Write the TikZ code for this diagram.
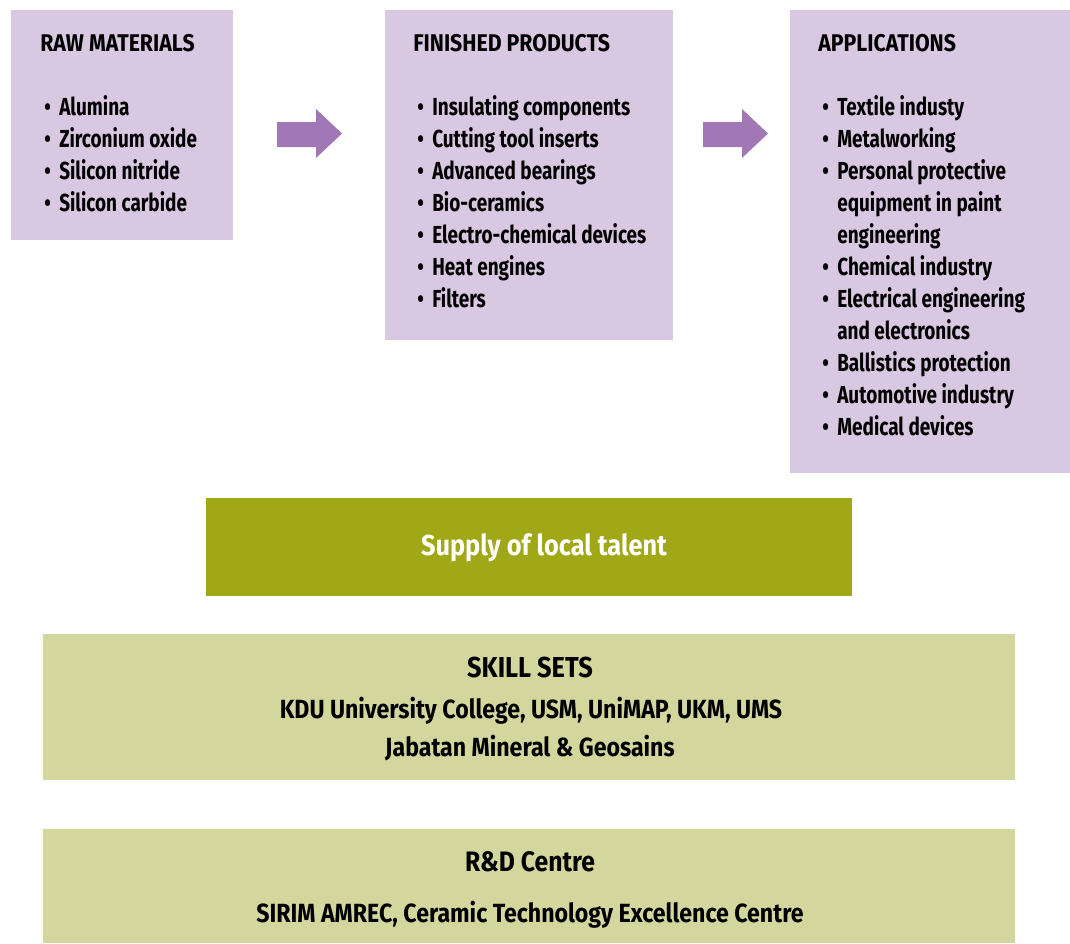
\documentclass[tikz,border=0pt]{standalone}
\usepackage{fontspec}
\setmainfont{Fira Sans}[FakeStretch=0.77]
\newfontfamily\widefont{Fira Sans}[FakeStretch=0.88]
\usetikzlibrary{positioning}
\definecolor{lilac}{HTML}{D8C8E2}
\definecolor{plum}{HTML}{A177B6}
\definecolor{olive}{HTML}{A0A818}
\definecolor{sage}{HTML}{D3D79D}
\newcommand{\bl}{\makebox[0.375cm][l]{\textbullet}}
\newcommand{\ind}{\hspace*{0.375cm}}

\begin{document}
\begin{tikzpicture}[x=0.025cm,y=-0.025cm,
      panel/.style={fill=lilac,inner sep=0pt,anchor=north west},
      band/.style={inner sep=0pt,anchor=north west},
      head/.style={font=\widefont\bfseries\fontsize{17.2}{22.76}\selectfont,anchor=base west,inner sep=0pt},
      list/.style={font=\bfseries\fontsize{17.5}{22.76}\selectfont,anchor=base west,inner sep=0pt,align=left},
      mid/.style={font=\widefont\bfseries\fontsize{18.7}{22}\selectfont,inner sep=0pt,anchor=base}]
    \useasboundingbox (0,0) rectangle (1070,943);
    % top row
    \node[panel,minimum width=5.55cm,minimum height=5.75cm] (raw) at (11,10) {};
    \node[panel,minimum width=7.2cm,minimum height=8.25cm] (fin) at (385,10) {};
    \node[panel,minimum width=7cm,minimum height=11.575cm] (app) at (790,10) {};
    \node[head] (rawh) at (40,51.5) {RAW MATERIALS};
    \node[head] (finh) at (413,51.5) {FINISHED PRODUCTS};
    \node[head] (apph) at (818,51.5) {APPLICATIONS};
    % lists are anchored at the baseline of their last line
    \node[list] (rawl) at (44,211.5) {\bl Alumina\\ \bl Zirconium oxide\\ \bl Silicon nitride\\ \bl Silicon carbide};
    \node[list] (finl) at (417,307.5) {\bl Insulating components\\ \bl Cutting tool inserts\\ \bl Advanced bearings\\
      \bl Bio-ceramics\\ \bl Electro-chemical devices\\ \bl Heat engines\\ \bl Filters};
    \node[list] (appl) at (822,435.5) {\bl Textile industy\\ \bl Metalworking\\ \bl Personal protective\\
      \ind equipment in paint\\ \ind engineering\\ \bl Chemical industry\\ \bl Electrical engineering\\
      \ind and electronics\\ \bl Ballistics protection\\ \bl Automotive industry\\ \bl Medical devices};
    % block arrows
    \foreach \n/\x in {a1/277,a2/703}{
      \coordinate (\n) at (\x,134.5);
      \fill[plum] (\n) ++(0,-12.5) -- ++(39,0) -- ++(0,-13) -- ++(26,24.5) -- ++(-26,24.5)
        -- ++(0,-11) -- ++(-39,0) -- cycle;}
    % bottom bands
    \node[band,fill=olive,minimum width=16.15cm,minimum height=2.45cm] (sup) at (206,498) {};
    \node[band,fill=sage,minimum width=24.275cm,minimum height=3.65cm] (skill) at (43,634) {};
    \node[band,fill=sage,minimum width=24.275cm,minimum height=2.85cm] (rnd) at (43,829) {};
    \node[mid,text=white,font=\widefont\bfseries\fontsize{20.5}{22}\selectfont] (supt) at (544,555) {Supply of local talent};
    \node[mid,font=\widefont\bfseries\fontsize{20.5}{22}\selectfont] (skillt) at (530,677) {SKILL SETS};
    \node[mid] (skill1) at (531,718.5) {KDU University College, USM, UniMAP, UKM, UMS};
    \node[mid] (skill2) at (530,756.5) {Jabatan Mineral \& Geosains};
    \node[mid,font=\widefont\bfseries\fontsize{20}{22}\selectfont] (rndt) at (530,871) {R\&D Centre};
    \node[mid] (rnd1) at (530,922.5) {SIRIM AMREC, Ceramic Technology Excellence Centre};
  \end{tikzpicture}
\end{document}
